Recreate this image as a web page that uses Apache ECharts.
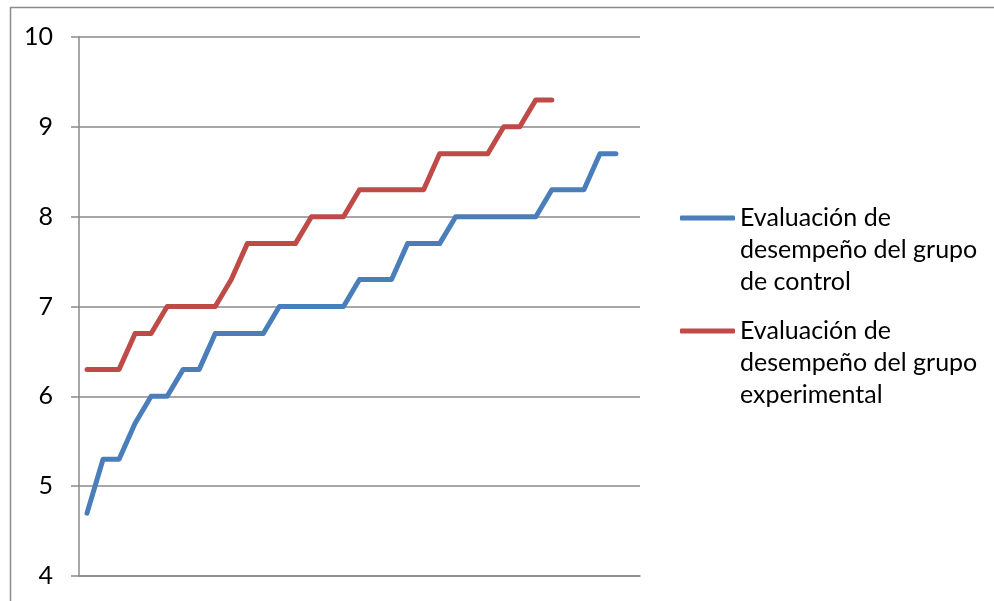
<!DOCTYPE html>
<html>
<head>
<meta charset="utf-8">
<script src="https://cdn.jsdelivr.net/npm/echarts@6/dist/echarts.min.js"></script>
<style>
  html, body { margin: 0; padding: 0; background: #ffffff; }
  #chart { width: 994px; height: 601px; }
</style>
</head>
<body>
<div id="chart"></div>
<script>
// Observation slots along the horizontal axis (unlabelled)
const categories = ['1','2','3','4','5','6','7','8','9','10','11','12','13','14','15','16','17','18',
  '19','20','21','22','23','24','25','26','27','28','29','30','31','32','33','34','35'];

// Performance scores, sorted ascending, for each group
const controlScores = [4.7, 5.3, 5.3, 5.7, 6.0, 6.0, 6.3, 6.3, 6.7, 6.7, 6.7, 6.7, 7.0, 7.0, 7.0, 7.0, 7.0,
  7.3, 7.3, 7.3, 7.7, 7.7, 7.7, 8.0, 8.0, 8.0, 8.0, 8.0, 8.0, 8.3, 8.3, 8.3, 8.7, 8.7];
const experimentalScores = [6.3, 6.3, 6.3, 6.7, 6.7, 7.0, 7.0, 7.0, 7.0, 7.3, 7.7, 7.7, 7.7, 7.7, 8.0, 8.0, 8.0,
  8.3, 8.3, 8.3, 8.3, 8.3, 8.7, 8.7, 8.7, 8.7, 9.0, 9.0, 9.3, 9.3];

const seriesNames = ['Evaluación de desempeño del grupo de control',
  'Evaluación de desempeño del grupo experimental'];
const legendLines = [
  ['Evaluación de', 'desempeño del grupo', 'de control'],
  ['Evaluación de', 'desempeño del grupo', 'experimental']
];

const yMin = 4, yMax = 10, yStep = 1;

const FONT = 'Lato';
const GRID_GRAY = '#8a8a8a';
const BLUE = '#4A7EBB';
const RED = '#BE4B48';

const chart = echarts.init(document.getElementById('chart'), null, { renderer: 'canvas' });

// Legend text: two blank lines ahead so the swatch sits beside the first line
function legendFormatter(idx) {
  return function () { return '\n\n' + legendLines[idx].join('\n'); };
}
function makeLegend(idx, top) {
  return {
    data: [seriesNames[idx]],
    left: 680,
    top: top,
    orient: 'vertical',
    padding: 0,
    itemWidth: 55,
    itemHeight: 5,
    icon: 'roundRect',
    selectedMode: false,
    formatter: legendFormatter(idx),
    textStyle: { fontFamily: FONT, fontSize: 25, color: '#000', lineHeight: 32 }
  };
}

chart.setOption({
  animation: false,
  backgroundColor: '#ffffff',
  grid: { left: 79, right: 354, top: 37, bottom: 25, containLabel: false },
  xAxis: {
    type: 'category',
    data: categories,
    boundaryGap: true,
    axisLine: { show: true, lineStyle: { color: GRID_GRAY, width: 1.5 } },
    axisTick: { show: false },
    axisLabel: { show: false },
    splitLine: { show: false }
  },
  yAxis: {
    type: 'value',
    min: yMin,
    max: yMax,
    interval: yStep,
    axisLine: { show: true, lineStyle: { color: GRID_GRAY, width: 1.5 } },
    axisTick: { show: true, inside: false, length: 8, lineStyle: { color: GRID_GRAY, width: 1.5 } },
    axisLabel: { margin: 26, fontFamily: FONT, fontSize: 25, color: '#000' },
    splitLine: { show: true, lineStyle: { color: GRID_GRAY, width: 1.5 } }
  },
  legend: [makeLegend(0, 218 - 80), makeLegend(1, 331 - 80)],
  series: [
    {
      name: seriesNames[0],
      type: 'line',
      data: controlScores,
      showSymbol: false,
      symbol: 'none',
      color: BLUE,
      lineStyle: { color: BLUE, width: 5, cap: 'round', join: 'round' }
    },
    {
      name: seriesNames[1],
      type: 'line',
      data: experimentalScores,
      showSymbol: false,
      symbol: 'none',
      color: RED,
      lineStyle: { color: RED, width: 5, cap: 'round', join: 'round' }
    }
  ],
  // Outer frame edges (left and top)
  graphic: [
    { type: 'line', shape: { x1: 10.5, y1: 7, x2: 10.5, y2: 601 }, style: { stroke: GRID_GRAY, lineWidth: 1.5 }, silent: true },
    { type: 'line', shape: { x1: 10, y1: 7.5, x2: 994, y2: 7.5 }, style: { stroke: GRID_GRAY, lineWidth: 1.5 }, silent: true }
  ]
});
</script>
</body>
</html>
